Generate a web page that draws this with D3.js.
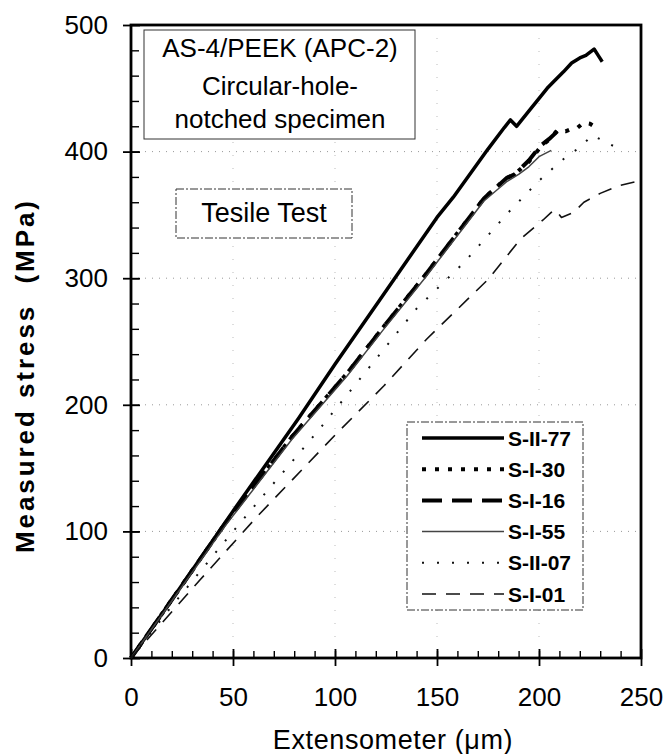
<!DOCTYPE html>
<html>
<head>
<meta charset="utf-8">
<script src="https://cdn.jsdelivr.net/npm/d3@7"></script>
<style>
  body { margin: 0; background: #fff; }
  svg { font-family: "Liberation Sans", Arial, sans-serif; }
</style>
</head>
<body>
<div id="chart"></div>
<script>
// --- Stress vs extensometer, circular-hole-notched AS-4/PEEK ---
const xTicks = [0, 50, 100, 150, 200, 250];
const yTicks = [0, 100, 200, 300, 400, 500];
const seriesNames = ["S-II-77", "S-I-30", "S-I-16", "S-I-55", "S-II-07", "S-I-01"];

// [extensometer (um), stress (MPa)]
const sII77 = [[0,0],[20,46],[50,116],[82,189],[100,232],[122,283],[150,348],[158,364],[175,402],[183,419],[186,425],[189,420],[195,432],[204,450],[207,455],[212,463],[216,470],[220,474],[223,476],[227,481],[229,476],[231,471]];
const sI30 = [[0,0],[20,46],[46,106],[79,175],[106,225],[124,262],[144,302],[173,363],[184,379],[188,382],[195,392],[201,404],[206,411],[209,417],[213,416],[216,418],[219,419],[222,423],[225,422],[227,420]];
const sI16 = [[0,0],[20,46],[46,106],[79,175],[106,225],[124,262],[144,302],[173,363],[184,379],[188,382],[195,393],[201,405],[205,410],[209,416]];
const sI55 = [[0,0],[20,45],[46,104],[79,173],[106,223],[124,260],[144,300],[173,361],[184,376],[190,382],[195,388],[200,396],[206,401]];
const sII07 = [[0,0],[20,41],[50,100],[92,180],[100,196],[140,276],[163,312],[185,352],[200,377],[209,390],[215,398],[219,402],[223,408],[226,413],[231,409],[237,404],[241,407]];
const sI01 = [[0,0],[34,62],[62,112],[100,176],[124,215],[145,252],[175,299],[191,331],[202,346],[206,352],[208,354],[211,348],[217,352],[222,360],[230,367],[239,373],[247,376],[250,376]];

const seriesData = [sII77, sI30, sI16, sI55, sII07, sI01];
const styles = [
    { w: 3.5, dash: null, color: "#000" },
    { w: 4, dash: "4,9", color: "#000" },
    { w: 4, dash: "20,10", color: "#000" },
    { w: 1.5, dash: null, color: "#444" },
    { w: 2, dash: "2,13", color: "#111" },
    { w: 1.6, dash: "14,10", color: "#111" }
];

const W = 667, H = 754;
const margin = { top: 25, right: 26, bottom: 96, left: 131 },
    width = W - margin.left - margin.right,
    height = H - margin.top - margin.bottom;

const svg = d3.select("#chart")
    .append("svg")
    .attr("width", W)
    .attr("height", H)
    .append("g")
    .attr("transform", `translate(${margin.left},${margin.top})`);

const x = d3.scaleLinear().domain([0, 250]).range([0, width]);
const y = d3.scaleLinear().domain([0, 500]).range([height, 0]);

// gridlines
svg.append("g")
    .selectAll("line")
    .data(yTicks.slice(1, -1))
    .enter()
    .append("line")
    .attr("x1", 0).attr("x2", width)
    .attr("y1", d => y(d)).attr("y2", d => y(d))
    .attr("stroke", "#999")
    .attr("stroke-dasharray", "1,6");

svg.append("g")
    .selectAll("line")
    .data(xTicks.slice(1, -1))
    .enter()
    .append("line")
    .attr("y1", 0).attr("y2", height)
    .attr("x1", d => x(d)).attr("x2", d => x(d))
    .attr("stroke", "#bbb")
    .attr("stroke-dasharray", "1,12");

// minor ticks
svg.append("g")
    .attr("transform", `translate(0,${height})`)
    .call(d3.axisBottom(x).tickValues(d3.range(10, 250, 10)).tickSize(-7).tickFormat(""))
    .call(g => g.select(".domain").remove())
    .call(g => g.selectAll("line").attr("stroke-width", 1.4));

svg.append("g")
    .call(d3.axisLeft(y).tickValues(d3.range(20, 500, 20)).tickSize(-8).tickFormat(""))
    .call(g => g.select(".domain").remove())
    .call(g => g.selectAll("line").attr("stroke-width", 1.4));

// major axes
const xAxis = svg.append("g")
    .attr("transform", `translate(0,${height})`)
    .call(d3.axisBottom(x).tickValues(xTicks).tickSize(8).tickSizeOuter(0).tickPadding(22));
xAxis.selectAll(".tick line").attr("y1", -9).attr("stroke-width", 1.8);

const yAxis = svg.append("g")
    .call(d3.axisLeft(y).tickValues(yTicks).tickSize(8).tickSizeOuter(0).tickPadding(15));
yAxis.selectAll(".tick line").attr("x1", 9).attr("stroke-width", 1.8);

svg.selectAll(".tick text")
    .attr("font-size", 26)
    .attr("font-family", "'Liberation Sans', Arial, sans-serif")
    .attr("fill", "#000");
svg.selectAll(".domain").remove();

// frame
svg.append("rect")
    .attr("width", width)
    .attr("height", height)
    .attr("fill", "none")
    .attr("stroke", "#000")
    .attr("stroke-width", 2.8);

// curves
const line = d3.line()
    .x(d => x(d[0]))
    .y(d => y(d[1]));

seriesData.forEach((s, i) => {
    svg.append("path")
        .datum(s)
        .attr("fill", "none")
        .attr("stroke", styles[i].color)
        .attr("stroke-width", styles[i].w)
        .attr("stroke-dasharray", styles[i].dash)
        .attr("stroke-linejoin", "round")
        .attr("d", line);
});

// title box
const tb = svg.append("g");
tb.append("rect")
    .attr("x", 13).attr("y", 5)
    .attr("width", 271).attr("height", 109)
    .attr("fill", "#fff")
    .attr("stroke", "#333")
    .attr("stroke-width", 1);
tb.selectAll("text")
    .data(["AS-4/PEEK (APC-2)", "Circular-hole-", "notched specimen"])
    .enter()
    .append("text")
    .attr("x", 149)
    .attr("y", (d, i) => [32, 70, 103][i])
    .attr("text-anchor", "middle")
    .attr("font-size", 26)
    .text(d => d);

// Tesile Test box
svg.append("rect")
    .attr("x", 45).attr("y", 164)
    .attr("width", 176).attr("height", 49)
    .attr("fill", "#fff")
    .attr("stroke", "#333")
    .attr("stroke-width", 1)
    .attr("stroke-dasharray", "8,2,2,2");
svg.append("text")
    .attr("x", 133).attr("y", 197)
    .attr("text-anchor", "middle")
    .attr("font-size", 27)
    .text("Tesile Test");

// legend
const lg = svg.append("g").attr("transform", "translate(276,397)");
lg.append("rect")
    .attr("width", 176).attr("height", 188)
    .attr("fill", "#fff")
    .attr("stroke", "#333")
    .attr("stroke-width", 1)
    .attr("stroke-dasharray", "8,2,2,2");
seriesNames.forEach((name, i) => {
    const ly = 16 + i * 31.2;
    lg.append("line")
        .attr("x1", 15).attr("x2", 97)
        .attr("y1", ly).attr("y2", ly)
        .attr("stroke", styles[i].color)
        .attr("stroke-width", styles[i].w)
        .attr("stroke-dasharray", styles[i].dash);
    lg.append("text")
        .attr("x", 101).attr("y", ly + 7.5)
        .attr("font-size", 21)
        .attr("font-weight", "bold")
        .text(name);
});

// axis titles
svg.append("text")
    .attr("x", width / 2 + 7)
    .attr("y", height + 91)
    .attr("text-anchor", "middle")
    .attr("font-size", 27)
    .attr("letter-spacing", 0.6)
    .text("Extensometer (\u03bcm)");

svg.append("text")
    .attr("transform", `translate(-97,352) rotate(-90)`)
    .attr("text-anchor", "middle")
    .attr("font-size", 26)
    .attr("font-weight", "bold")
    .attr("textLength", 352)
    .attr("lengthAdjust", "spacing")
    .style("white-space", "pre")
    .text("Measured stress  (MPa)");
</script>
</body>
</html>
